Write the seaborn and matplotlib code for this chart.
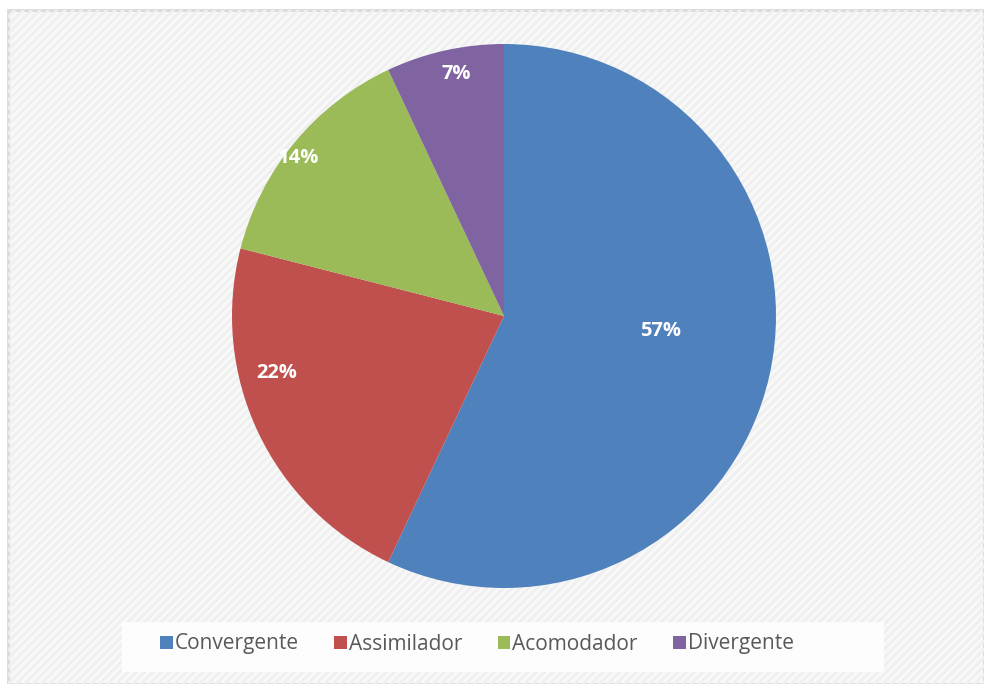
import numpy as np
import matplotlib
matplotlib.use("Agg")
import matplotlib.pyplot as plt
import seaborn as sns
from matplotlib.patches import Rectangle, Patch

# DATA
categories = ["Convergente", "Assimilador", "Acomodador", "Divergente"]
values = [57, 22, 14, 7]
pct_labels = ["57%", "22%", "14%", "7%"]

# STYLE
colors = ["#4F81BD", "#C0504D", "#9BBB59", "#8064A2"]
label_radius = [0.58, 0.86, 0.955, 0.905]
label_nudge = [7, -11, 2, -1.5]  # degrees, excel-style "best fit" placement

sns.set_theme(style="white")
plt.rcParams["font.family"] = ["Open Sans", "DejaVu Sans"]
plt.rcParams["hatch.linewidth"] = 2.0

fig = plt.figure(figsize=(9.84, 6.84), dpi=100)
fig.patch.set_facecolor("white")

# chart area background with faint hatch + border
bg = Rectangle((8 / 984, 0), 1 - 8 / 984, 1 - 10 / 684, transform=fig.transFigure,
               facecolor="#f8f8f8", edgecolor="#d9d9d9", linewidth=2, zorder=-3)
fig.patches.append(bg)
hatch = Rectangle((8 / 984, 0), 1 - 8 / 984, 1 - 10 / 684, transform=fig.transFigure,
                  facecolor="none", edgecolor="#efefef", hatch="////", linewidth=0, zorder=-2)
fig.patches.append(hatch)

# legend box
lbox = Rectangle((122 / 984, 1 - 672 / 684), 762 / 984, 50 / 684, transform=fig.transFigure,
                 facecolor="white", edgecolor="none", alpha=0.85, zorder=-1)
fig.patches.append(lbox)

ax = fig.add_axes([232 / 984, 1 - 588 / 684, 544 / 984, 544 / 684])
ax.set_zorder(1)
ax.patch.set_alpha(0)
wedges, _ = ax.pie(values, colors=colors, startangle=90, counterclock=False,
                   wedgeprops={"linewidth": 0})
ax.set_xlim(-1, 1)
ax.set_ylim(-1, 1)
ax.set_aspect("equal")
ax.axis("off")

for w, lab, r, dn in zip(wedges, pct_labels, label_radius, label_nudge):
    ang = np.deg2rad((w.theta1 + w.theta2) / 2 + dn)
    ax.text(r * np.cos(ang), r * np.sin(ang), lab, ha="center", va="center",
            color="white", fontsize=14.5, fontweight="bold")

handles = [Patch(facecolor=c, edgecolor="none") for c in colors]
leg = fig.legend(handles, categories, loc="center", bbox_to_anchor=(477 / 984, 1 - 644 / 684),
                 ncol=4, frameon=False, handlelength=0.6, handleheight=0.6,
                 handletextpad=0.1, columnspacing=1.7, labelcolor="#595959",
                 prop={"family": ["Open Sans", "DejaVu Sans"], "size": 15})
leg.set_zorder(2)

fig.savefig("out.png", dpi=100)
